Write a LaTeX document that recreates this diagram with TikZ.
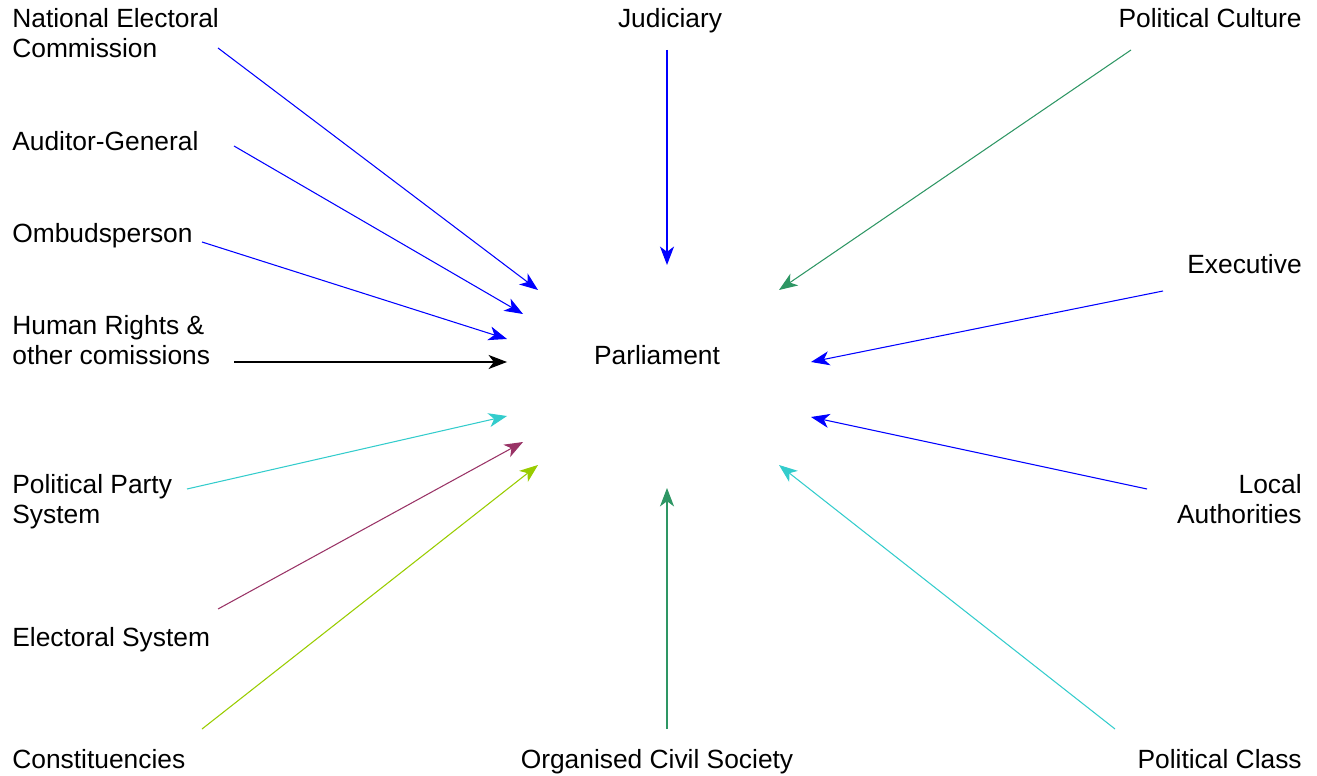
\documentclass[tikz,border=0pt]{standalone}
\usepackage{fontspec}
\setmainfont{Liberation Sans}
\usetikzlibrary{arrows.meta}

\definecolor{seagreen}{RGB}{46,150,100}
\definecolor{turq}{RGB}{51,204,204}
\definecolor{plum}{RGB}{153,51,102}
\definecolor{lime}{RGB}{153,204,0}

\tikzset{
  factor/.style={inner sep=0pt, font=\fontsize{15pt}{17pt}\selectfont},
  link/.style={-{Stealth[length=10.5pt,width=8pt,inset=3pt]}, line width=0.6pt},
  blueline/.style={link, blue},
  blackline/.style={link, black},
  greenline/.style={link, seagreen},
  turqline/.style={link, turq},
  plumline/.style={link, plum},
  limeline/.style={link, lime}
}

\begin{document}
\begin{tikzpicture}[x=0.02cm, y=-0.02cm]
    \useasboundingbox (0,0) rectangle (1317,776);

    % Centre
    \node[factor] (parl) at (657,355) {Parliament};

    % Left column
    \node[factor, anchor=west, align=left] (nec) at (12,33) {National Electoral\\Commission};
    \node[factor, anchor=west] (ag) at (12,141) {Auditor-General};
    \node[factor, anchor=west] (omb) at (12,236) {Ombudsperson};
    \node[factor, anchor=west, align=left] (hr) at (12,340) {Human Rights \&\\other comissions};
    \node[factor, anchor=west, align=left] (pps) at (12,502) {Political Party\\System};
    \node[factor, anchor=west] (es) at (12,640) {Electoral System};
    \node[factor, anchor=west] (const) at (12,759) {Constituencies};

    % Top and bottom
    \node[factor] (jud) at (670,21) {Judiciary};
    \node[factor] (ocs) at (657,762) {Organised Civil Society};

    % Right column
    \node[factor, anchor=east] (pc) at (1302,18) {Political Culture};
    \node[factor, anchor=east] (exec) at (1302,264) {Executive};
    \node[factor, anchor=east, align=right] (la) at (1302,499.5) {Local\\Authorities};
    \node[factor, anchor=east] (pcl) at (1302,759) {Political Class};

    % Arrows into Parliament
    \foreach \from/\tail/\head/\col in {
        nec.west/{(206,15)}/{(-119,-65)}/blueline,
        ag.west/{(222,5)}/{(-134,-41)}/blueline,
        omb.west/{(190,6)}/{(-150,-16)}/blueline,
        hr.west/{(222,22)}/{(-150,7)}/blackline,
        pps.west/{(175,-13)}/{(-150,61)}/turqline,
        es.west/{(206,-31)}/{(-134,87)}/plumline,
        const.west/{(190,-30)}/{(-119,110)}/limeline,
        jud.center/{(-3,29)}/{(10,-90)}/blueline,
        ocs.center/{(10,-33)}/{(10,133)}/greenline,
        pc.east/{(-171,32)}/{(122,-65)}/greenline,
        exec.east/{(-139,27)}/{(154,7)}/blueline,
        la.east/{(-155,-10.5)}/{(154,62)}/blueline,
        pcl.east/{(-187,-30)}/{(122,110)}/turqline} {
        \draw[\col] ([shift={\tail}]\from) -- ([shift={\head}]parl.center);
    }
\end{tikzpicture}
\end{document}
